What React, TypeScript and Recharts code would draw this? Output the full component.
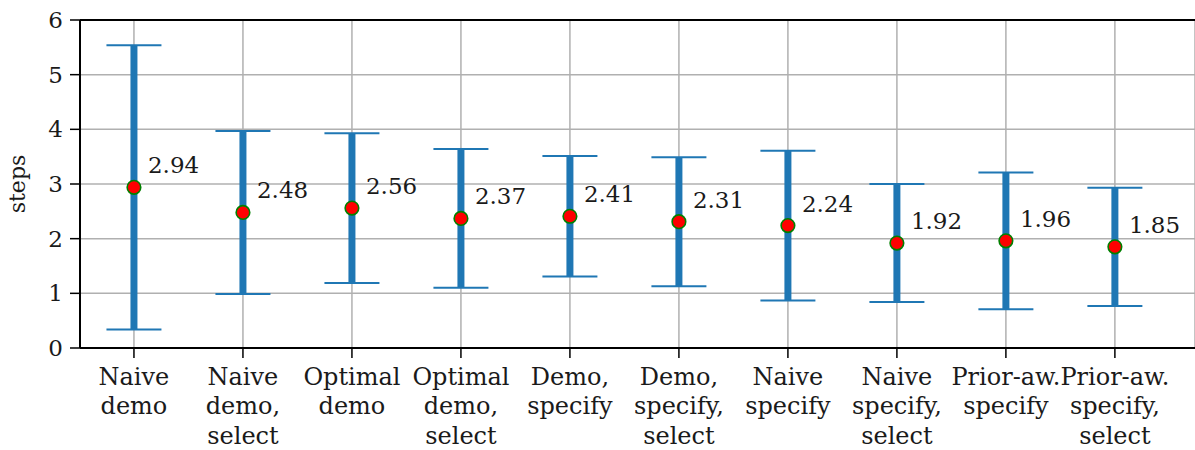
import React from 'react';
import { ScatterChart, Scatter, XAxis, YAxis, CartesianGrid, ErrorBar, ReferenceLine } from 'recharts';

const categories = [
  'Naive\ndemo',
  'Naive\ndemo,\nselect',
  'Optimal\ndemo',
  'Optimal\ndemo,\nselect',
  'Demo,\nspecify',
  'Demo,\nspecify,\nselect',
  'Naive\nspecify',
  'Naive\nspecify,\nselect',
  'Prior-aw.\nspecify',
  'Prior-aw.\nspecify,\nselect',
];
const means = [2.94, 2.48, 2.56, 2.37, 2.41, 2.31, 2.24, 1.92, 1.96, 1.85];
const errors = [2.6, 1.49, 1.37, 1.27, 1.1, 1.18, 1.37, 1.08, 1.25, 1.08];
const yTicks = [0, 1, 2, 3, 4, 5, 6];

const FONT = '"DejaVu Serif", serif';
const BLUE = '#1f77b4';
const TEXT = '#1a1a1a';

const data = categories.map((name, i) => ({ x: i, name, mean: means[i], err: errors[i] }));

// dot + value label next to it
const Point = (props: any) => {
  const { cx, cy, payload } = props;
  return (
    <g>
      <circle cx={cx} cy={cy} r={6.8} fill="#ff0000" stroke="#008000" strokeWidth={1.6} />
      <text x={cx + 14} y={cy - 22} dominantBaseline="central" fontSize={23} fontFamily={FONT} fill={TEXT}>
        {payload.mean.toFixed(2)}
      </text>
    </g>
  );
};

const CategoryTick = (props: any) => {
  const { x, y, payload } = props;
  const lines = categories[payload.value].split('\n');
  return (
    <text x={x} y={y} textAnchor="middle" fontSize={24} fontFamily={FONT} fill={TEXT}>
      {lines.map((line, i) => (
        <tspan key={i} x={x} dy={i === 0 ? 25 : 29.3}>
          {line}
        </tspan>
      ))}
    </text>
  );
};

export default function App() {
  return (
    <div style={{ position: 'absolute', left: 0, top: 0, background: '#fff' }}>
      <ScatterChart width={1195} height={450} margin={{ top: 20, right: 0, bottom: 0, left: 0 }}>
        <CartesianGrid stroke="#b0b0b0" strokeWidth={1.5} />
        <XAxis
          type="number"
          dataKey="x"
          domain={[-0.495, 9.735]}
          ticks={[0, 1, 2, 3, 4, 5, 6, 7, 8, 9]}
          interval={0}
          allowDataOverflow
          height={102}
          axisLine={{ stroke: '#000', strokeWidth: 2 }}
          tickLine={{ stroke: '#000', strokeWidth: 1.5 }}
          tickSize={10}
          tick={<CategoryTick />}
        />
        <YAxis
          type="number"
          dataKey="mean"
          domain={[0, 6]}
          ticks={yTicks}
          interval={0}
          width={80}
          axisLine={{ stroke: '#000', strokeWidth: 2 }}
          tickLine={{ stroke: '#000', strokeWidth: 1.5 }}
          tickSize={10}
          tickMargin={7}
          tick={{ fontSize: 23, fontFamily: FONT, fill: TEXT }}
          label={{ value: 'steps', angle: -90, position: 'insideLeft', dx: 12, style: { fontSize: 22, fontFamily: FONT, fill: TEXT, textAnchor: 'middle' } }}
        />
        <ReferenceLine y={6} stroke="#000" strokeWidth={2} />
        <Scatter data={data} shape={<Point />} isAnimationActive={false}>
          <ErrorBar dataKey="err" direction="y" width={0} stroke={BLUE} strokeWidth={7} isAnimationActive={false} />
          <ErrorBar dataKey="err" direction="y" width={27.5} stroke={BLUE} strokeWidth={2} isAnimationActive={false} />
        </Scatter>
      </ScatterChart>
    </div>
  );
}
